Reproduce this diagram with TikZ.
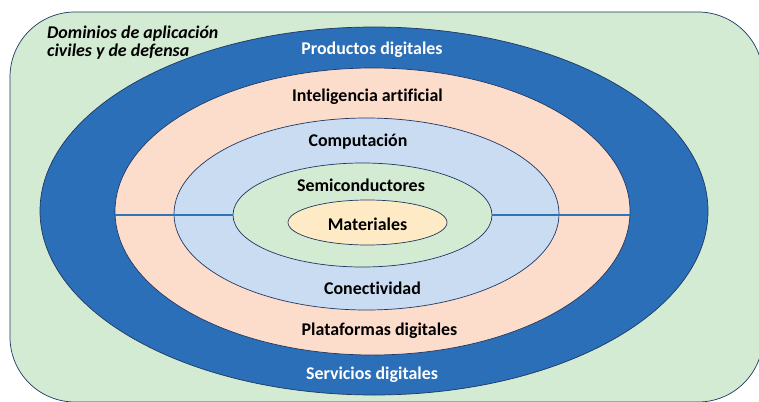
\documentclass[tikz,border=0pt]{standalone}
\usepackage{fontspec}
\setmainfont{Carlito}[Ligatures=NoCommon]
\definecolor{outl}{HTML}{1F3864}
\definecolor{bgreen}{HTML}{D3EAD3}
\definecolor{dblue}{HTML}{2A6FB8}
\definecolor{pinkc}{HTML}{FCDCCB}
\definecolor{lblue}{HTML}{CADCF1}
\definecolor{ygreen}{HTML}{D3EAD3}
\definecolor{yellowc}{HTML}{FEEBC6}
\definecolor{linec}{HTML}{2E75B6}
\tikzset{
  ring/.style={draw=outl, line width=0.7pt},
  lbl/.style={font=\fontsize{17.9}{20}\selectfont\bfseries, inner sep=0pt, text=black},
  wlbl/.style={lbl, text=white},
  divl/.style={draw=linec, line width=1.1pt}
}
\begin{document}
\begin{tikzpicture}[x=1pt,y=-1pt]
\useasboundingbox (0,0) rectangle (759,401);
\draw[ring, fill=bgreen, rounded corners=65pt] (10,12) rectangle (763,402);
\draw[ring, fill=dblue] (374,211) ellipse [x radius=334, y radius=184];
\draw[ring, fill=pinkc] (372.5,211.5) ellipse [x radius=257.5, y radius=143.5];
\draw[ring, fill=lblue] (366.5,214) ellipse [x radius=192.5, y radius=96];
\draw[ring, fill=ygreen] (362.5,215) ellipse [x radius=129.5, y radius=52];
\draw[ring, fill=yellowc] (367.5,222.5) ellipse [x radius=79.5, y radius=22.5];
\coordinate (l1) at (115,215);
\coordinate (l2) at (233,215);
\coordinate (r1) at (492,215);
\coordinate (r2) at (630,215);
\draw[divl] (l1) -- (l2);
\draw[divl] (r1) -- (r2);
\node[wlbl] (prod) at (372,50) {Productos digitales};
\node[lbl] (ia) at (367.5,97) {Inteligencia artificial};
\node[lbl] (comp) at (358,142) {Computación};
\node[lbl] (semi) at (361,185) {Semiconductores};
\node[lbl] (mat) at (367.5,224) {Materiales};
\node[lbl] (con) at (372.5,288) {Conectividad};
\node[lbl] (plat) at (379.5,331) {Plataformas digitales};
\node[wlbl] (serv) at (372,375) {Servicios digitales};
\node[lbl, font=\fontsize{17.9}{17.5}\selectfont\bfseries\itshape, align=left, anchor=north west] (dom) at (47,26) {Dominios de aplicación\\civiles y de defensa};
\end{tikzpicture}
\end{document}
